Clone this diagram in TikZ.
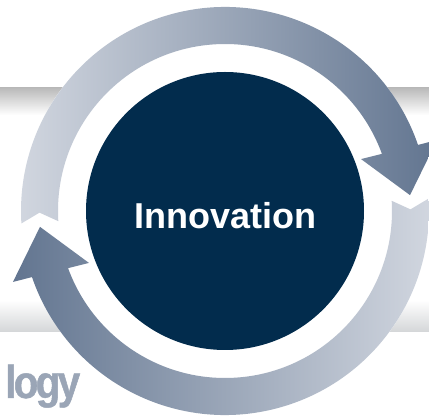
\documentclass[tikz,border=0pt]{standalone}
\usepackage{fontspec}
\setmainfont{Liberation Sans}
\newfontfamily\logyfont[FakeStretch=0.88, LetterSpace=-6, FakeBold=1]{Liberation Sans}
\definecolor{ringlight}{HTML}{D2D7E0}
\definecolor{ringdark}{HTML}{627590}
\definecolor{navy}{HTML}{022C4D}
\definecolor{bandtop}{HTML}{BABABA}
\definecolor{bandbot}{HTML}{D4D6D8}
\definecolor{logygrey}{HTML}{9AA5B6}
\tikzset{
  corestyle/.style={circle, fill=navy, minimum size=278pt, inner sep=0pt},
  labelstyle/.style={text=white, font=\bfseries\fontsize{36}{36}\selectfont, inner sep=0pt, anchor=base},
  logystyle/.style={text=logygrey, font=\logyfont\bfseries\fontsize{46}{46}\selectfont, inner sep=0pt, anchor=base west}
}
\begin{document}
\begin{tikzpicture}[x=1pt,y=1pt]
\useasboundingbox (0,0) rectangle (429,418);
\fill[white] (0,0) rectangle (429,418);
% background band
\shade[top color=bandtop, bottom color=white] (0,303) rectangle (429,330);
\shade[top color=white, bottom color=bandbot] (0,118) rectangle (429,86);
\node[logystyle] (logy) at (5,20) {logy};
\begin{scope}[shift={(225,207)}]
  \fill[white] (0,0) circle (204);
  % top arrow (clockwise, light to dark)
  \shade[left color=ringlight, right color=ringdark]
    (183.5:204) -- (180.5:185.5) -- (183.5:167)
    arc[start angle=183.5, end angle=20.0, radius=167]
    -- (20.9:145.6) -- (4.9:185.7) -- (18.5:223.6) -- (18.9:204)
    arc[start angle=18.9, end angle=183.5, radius=204] -- cycle;
  % bottom arrow (clockwise, dark to light)
  \shade[left color=ringdark, right color=ringlight]
    (3.5:204) -- (0.5:185.5) -- (3.5:167)
    arc[start angle=3.5, end angle=-160.0, radius=167]
    -- (200.9:145.6) -- (184.9:185.7) -- (198.5:223.6) -- (198.9:204)
    arc[start angle=-161.1, end angle=3.5, radius=204] -- cycle;
  \node[corestyle] (core) at (0,0) {};
  \node[labelstyle] (label) at (0,-18) {Innovation};
\end{scope}
\end{tikzpicture}
\end{document}
